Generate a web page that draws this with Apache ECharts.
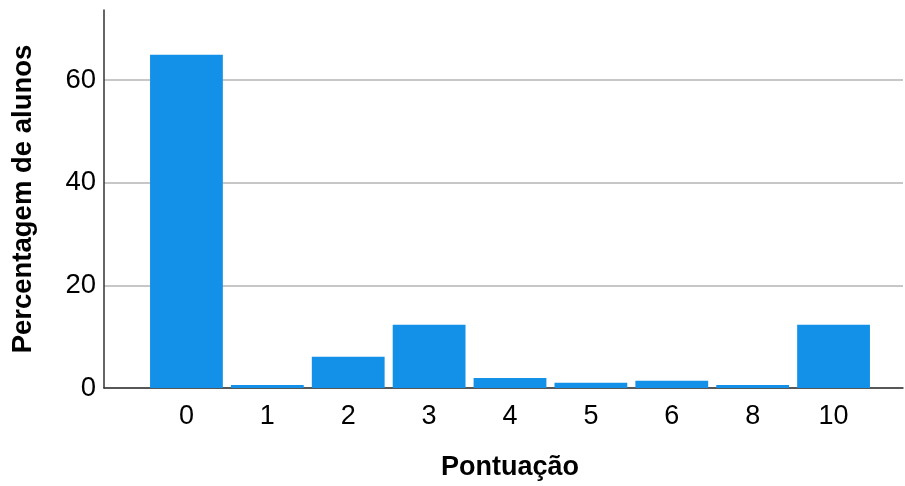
<!DOCTYPE html>
<html>
<head>
<meta charset="utf-8">
<script src="https://cdn.jsdelivr.net/npm/echarts@6/dist/echarts.min.js"></script>
<style>
  html, body { margin: 0; padding: 0; background: #fff; }
  #chart { width: 905px; height: 486px; }
</style>
</head>
<body>
<div id="chart"></div>
<script>
const categories = ['0', '1', '2', '3', '4', '5', '6', '8', '10'];
const percentages = [64.9, 0.6, 6.1, 12.3, 1.95, 1.0, 1.4, 0.6, 12.3];
const yTicks = [0, 20, 40, 60];

const chart = echarts.init(document.getElementById('chart'));

const font = 'Liberation Sans, Arial, sans-serif';

chart.setOption({
  animation: false,
  grid: [
    // bars
    { left: 146, right: 31, top: 10, bottom: 98, outerBoundsMode: 'none', containLabel: false },
    // gridlines + y labels
    { left: 104, right: 2, top: 80, bottom: 98, outerBoundsMode: 'none', containLabel: false }
  ],
  xAxis: [
    {
      gridIndex: 0,
      type: 'category',
      data: categories,
      axisLine: { show: false },
      axisTick: { show: false },
      axisLabel: { color: '#000', fontSize: 27, fontFamily: font, margin: 15 },
      name: 'Pontuação',
      nameLocation: 'middle',
      nameGap: 66,
      nameTextStyle: { color: '#000', fontSize: 27, fontWeight: 'bold', fontFamily: font }
    },
    {
      gridIndex: 1,
      type: 'value',
      min: 0,
      max: 1,
      axisLine: { show: true, lineStyle: { color: '#333', width: 1.5 } },
      axisTick: { show: false },
      axisLabel: { show: false },
      splitLine: { show: false }
    }
  ],
  yAxis: [
    {
      gridIndex: 0,
      type: 'value',
      min: 0,
      max: 73.6,
      offset: 42,
      axisLine: { show: true, lineStyle: { color: '#333', width: 1.5 } },
      axisTick: { show: false },
      axisLabel: { show: false },
      splitLine: { show: false },
      name: 'Percentagem de alunos',
      nameLocation: 'middle',
      nameGap: 67,
      nameRotate: 90,
      nameTextStyle: { color: '#000', fontSize: 27.5, fontWeight: 'bold', fontFamily: font }
    },
    {
      gridIndex: 1,
      type: 'value',
      min: yTicks[0],
      max: yTicks[yTicks.length - 1],
      interval: 20,
      axisLine: { show: false },
      axisTick: { show: false },
      axisLabel: { color: '#000', fontSize: 27.5, fontFamily: font, margin: 8 },
      splitLine: { show: true, lineStyle: { color: '#b4b4b4', width: 1.5 } }
    }
  ],
  series: [
    {
      type: 'bar',
      xAxisIndex: 0,
      yAxisIndex: 0,
      data: percentages,
      barCategoryGap: '10%',
      itemStyle: { color: '#1391e8' },
      z: 3
    }
  ]
});
</script>
</body>
</html>
